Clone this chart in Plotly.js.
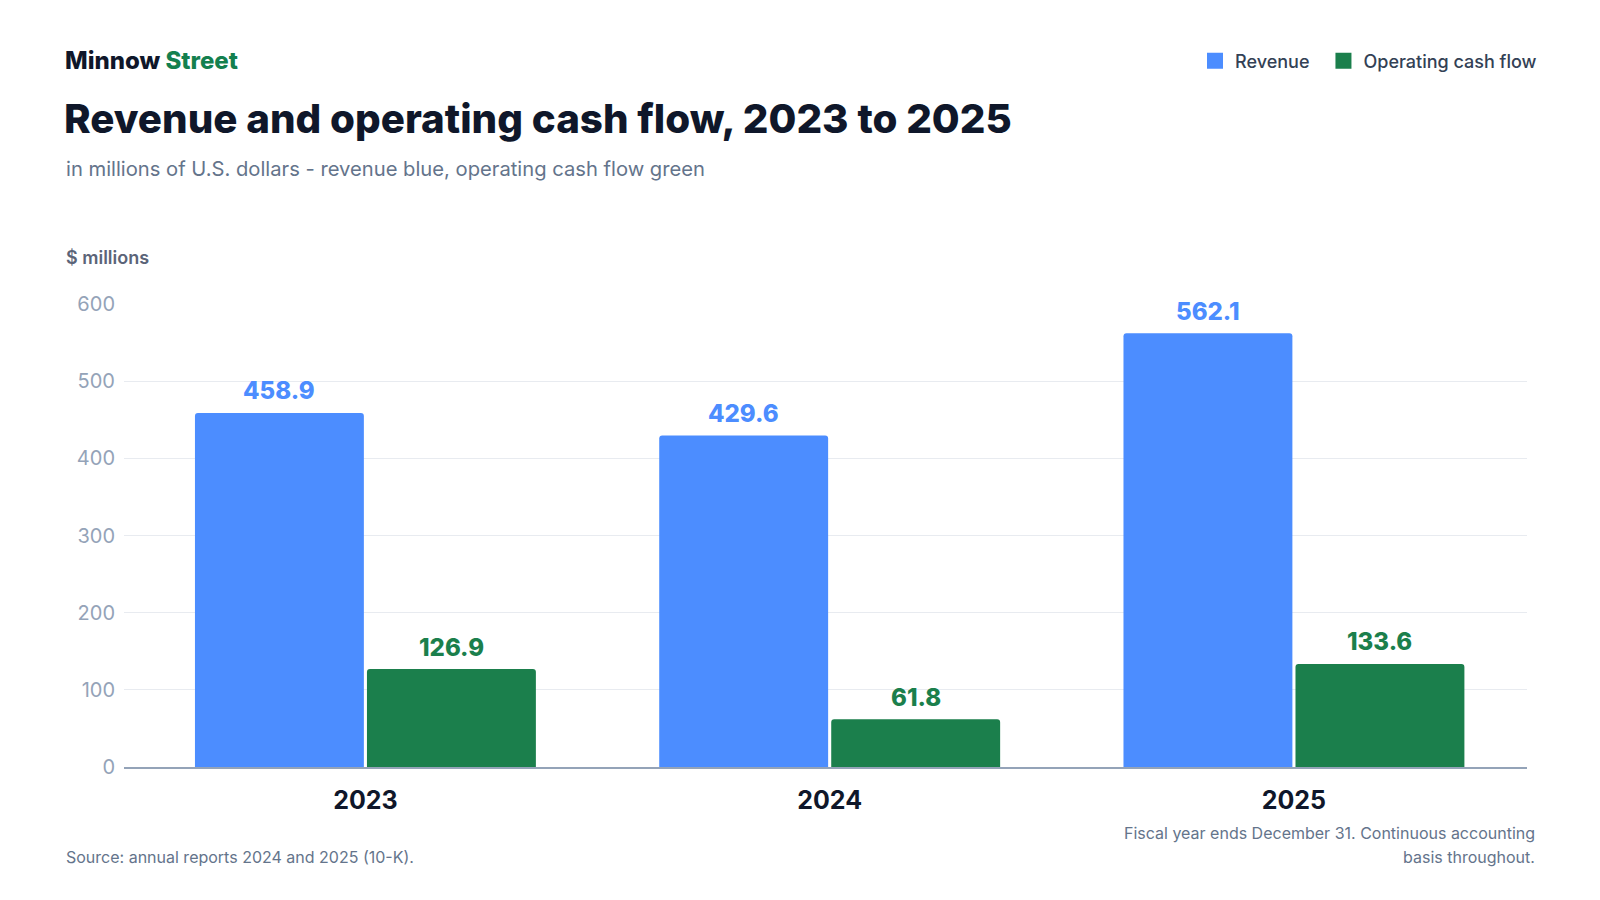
<!DOCTYPE html>
<html>
<head>
<meta charset="utf-8">
<script src="https://cdn.plot.ly/plotly-3.0.1.min.js"></script>
<style>
  html, body { margin: 0; padding: 0; background: #ffffff; }
  #chart { width: 1600px; height: 900px; }
</style>
</head>
<body>
<div id="chart"></div>
<script>
// values ($ millions)
var years = ['2023', '2024', '2025'];
var revenue = [458.9, 429.6, 562.1];
var cashFlow = [126.9, 61.8, 133.6];
var yTicks = [0, 100, 200, 300, 400, 500, 600];

var blue = '#4c8dff';
var green = '#1b7f4c';
var font = 'Inter, "Noto Sans", sans-serif';
var bargap = 0.259;

// plot area in pixels, used to place the surrounding text
var L = 124, R = 1527, T = 304, B = 767;
function px(x) { return (x - L) / (R - L); }
function py(y) { return (B - y) / (B - T); }

function barTrace(name, values, color) {
    return {
        type: 'bar',
        name: name,
        x: years,
        y: values,
        marker: { color: color, cornerradius: 3 },
        showlegend: false,
        hoverinfo: 'skip'
    };
}

// empty marker traces, only there to give the legend bigger square keys
function legendTrace(name, color) {
    return {
        type: 'scatter',
        mode: 'markers',
        name: name,
        x: [null],
        y: [null],
        marker: { symbol: 'square', size: 16, color: color },
        hoverinfo: 'skip'
    };
}

// value labels above each bar, at the bar's centre (category index +/- a quarter of the group)
function valueLabels(values, color, side) {
    var shift = side * (1 - bargap) / 4;
    return values.map(function(v, i) {
        return {
            xref: 'x', yref: 'y', x: i + shift, y: v,
            xanchor: 'center', yanchor: 'middle', yshift: 22,
            showarrow: false,
            text: v.toFixed(1),
            font: { family: font, size: 24, color: color, weight: 800 }
        };
    });
}

var plotlyData = [
    barTrace('Revenue', revenue, blue),
    barTrace('Operating cash flow', cashFlow, green),
    legendTrace('Revenue\u2002', blue),
    legendTrace('Operating cash flow', green)
];

var textNotes = [
    {
        xref: 'paper', yref: 'paper', x: px(63), y: py(61),
        xanchor: 'left', yanchor: 'middle', showarrow: false,
        text: 'Minnow <span style="color:#14804f">Street</span>',
        font: { family: font, size: 24, color: '#0f172a', weight: 800 }
    },
    {
        xref: 'paper', yref: 'paper', x: px(62), y: py(118),
        xanchor: 'left', yanchor: 'middle', showarrow: false,
        text: 'Revenue and operating cash flow, 2023 to 2025',
        font: { family: font, size: 40.3, color: '#0f172a', weight: 800 }
    },
    {
        xref: 'paper', yref: 'paper', x: px(64), y: py(168),
        xanchor: 'left', yanchor: 'middle', showarrow: false,
        text: 'in millions of U.S. dollars - revenue blue, operating cash flow green',
        font: { family: font, size: 20.2, color: '#64748b' }
    },
    {
        xref: 'paper', yref: 'paper', x: px(64), y: py(257),
        xanchor: 'left', yanchor: 'middle', showarrow: false,
        text: '$ millions',
        font: { family: font, size: 18, color: '#5b6478', weight: 600 }
    },
    {
        xref: 'paper', yref: 'paper', x: px(64), y: py(857),
        xanchor: 'left', yanchor: 'middle', showarrow: false,
        text: 'Source: annual reports 2024 and 2025 (10-K).',
        font: { family: font, size: 16, color: '#64748b' }
    },
    {
        xref: 'paper', yref: 'paper', x: px(1537), y: py(833),
        xanchor: 'right', yanchor: 'middle', showarrow: false,
        text: 'Fiscal year ends December 31. Continuous accounting',
        font: { family: font, size: 16, color: '#64748b' }
    },
    {
        xref: 'paper', yref: 'paper', x: px(1537), y: py(857),
        xanchor: 'right', yanchor: 'middle', showarrow: false,
        text: 'basis throughout.',
        font: { family: font, size: 16, color: '#64748b' }
    }
];

var plotlyLayout = {
    width: 1600,
    height: 900,
    paper_bgcolor: '#ffffff',
    plot_bgcolor: '#ffffff',
    margin: { l: L, r: 1600 - R, t: T, b: 900 - B },
    font: { family: font },
    barmode: 'group',
    bargap: bargap,
    bargroupgap: 0.018,
    showlegend: true,
    legend: {
        orientation: 'h',
        xref: 'container', yref: 'container',
        x: 1542 / 1600, xanchor: 'right',
        y: 1 - 61 / 900, yanchor: 'middle',
        font: { family: font, size: 18, color: '#334155', weight: 500 },
        itemwidth: 30,
        traceorder: 'normal'
    },
    xaxis: {
        type: 'category',
        range: [-0.52, 2.502],
        showgrid: false,
        showline: true,
        linecolor: '#94a3b8',
        linewidth: 2,
        ticks: '',
        ticklabelstandoff: 10,
        tickfont: { family: font, size: 25, color: '#0f172a', weight: 700 },
        fixedrange: true
    },
    yaxis: {
        range: [0, 600],
        tickvals: yTicks,
        showgrid: true,
        gridcolor: '#e8ebf0',
        gridwidth: 1,
        zeroline: false,
        showline: false,
        ticks: '',
        ticklabelstandoff: 8,
        tickfont: { family: font, size: 20, color: '#94a3b8' },
        fixedrange: true
    },
    annotations: textNotes
        .concat(valueLabels(revenue, blue, -1))
        .concat(valueLabels(cashFlow, green, 1))
};

var plotlyConfig = { displayModeBar: false, staticPlot: true };

Plotly.newPlot('chart', plotlyData, plotlyLayout, plotlyConfig);
</script>
</body>
</html>
